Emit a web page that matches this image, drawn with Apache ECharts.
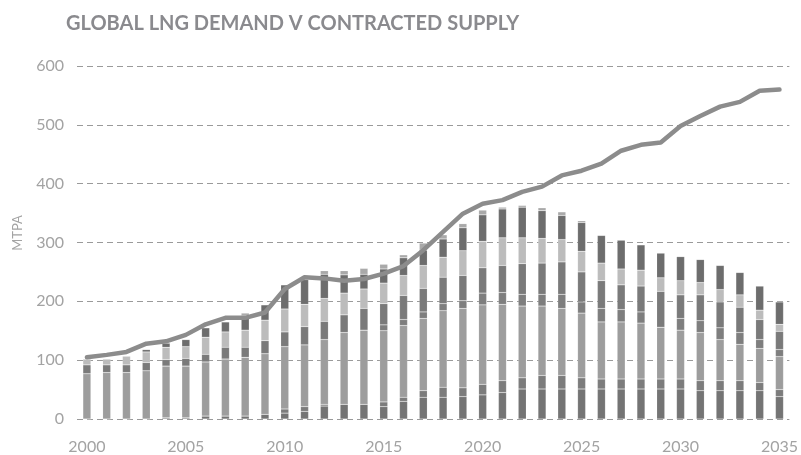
<!DOCTYPE html>
<html>
<head>
<meta charset="utf-8">
<script src="https://cdn.jsdelivr.net/npm/echarts@6/dist/echarts.min.js"></script>
<style>
  html, body { margin: 0; padding: 0; background: #fff; }
  #chart { width: 801px; height: 455px; }
</style>
</head>
<body>
<div id="chart"></div>
<script>
// years 2000 - 2035
var years = [];
for (var y = 2000; y <= 2035; y++) years.push(String(y));

// contracted supply, stacked from the bottom up (MTPA)
var supplyA = [0,0,0,0,2,2,5,5,5,8,10,13,22,25,25,21,30,37,37,38,41,45,51,51,51,51,51,51,51,51,51,48,48,48,48,38];
var supplyB = [0,0,0,0,0,0,0,0,0,0,7,8,3,0,0,8,7,11,17,15,18,20,19,23,23,19,17,17,17,17,17,17,17,17,14,12];
var supplyC = [77,79,79,82,88,88,92,97,100,103,106,105,110,122,126,121,122,123,130,135,135,130,122,118,114,110,97,97,95,88,83,82,70,62,58,56];
var supplyD = [0,0,0,0,0,0,0,0,0,0,0,0,0,0,0,10,10,11,12,13,20,20,20,20,24,19,23,21,19,0,20,20,20,20,15,12];
var supplyE = [15,13,13,14,11,13,13,20,17,22,25,31,31,30,37,36,41,40,45,43,43,46,52,53,55,51,47,42,44,61,40,44,44,43,34,31];
var supplyF = [10,10,15,18,21,20,29,26,29,35,39,38,39,37,33,35,34,39,34,42,45,47,44,42,38,35,30,27,27,23,24,21,21,21,16,12];
var supplyG = [0,0,0,4,7,12,16,17,25,26,41,42,41,31,25,24,30,26,31,39,45,49,52,47,41,49,47,49,43,42,41,39,41,38,41,38];
var supplyH = [0,0,0,0,0,0,0,0,4,0,0,0,6,7,10,8,5,12,7,7,8,3,3,5,6,3,0,0,0,0,0,0,0,0,0,0];

// global LNG demand (MTPA)
var demand = [105,109,114,128,132,143,161,172,172,181,221,241,239,235,238,247,260,287,318,349,366,372,386,395,414,422,434,456,466,470,498,515,531,539,558,560];

var layers = [supplyA, supplyB, supplyC, supplyD, supplyE, supplyF, supplyG, supplyH];
var layerColors = ['#747474', '#7c7c7c', '#9d9d9d', '#7e7e7e', '#7a7a7a', '#bcbcbc', '#6d6d6d', '#a9a9a9'];

var myChart = echarts.init(document.getElementById('chart'));

var series = layers.map(function (d, i) {
    return {
        type: 'bar',
        stack: 'supply',
        barWidth: 8,
        data: d,
        itemStyle: {
            color: layerColors[i],
            borderColor: 'rgba(255,255,255,0.25)',
            borderWidth: 0.5
        },
        z: 2
    };
});

series.push({
    type: 'line',
    data: demand,
    symbol: 'none',
    smooth: false,
    lineStyle: { color: '#8c8c8c', width: 4.5, join: 'round', cap: 'round' },
    z: 5
});

myChart.setOption({
    animation: false,
    title: {
        text: 'GLOBAL LNG DEMAND V CONTRACTED SUPPLY',
        left: 61,
        top: 9,
        textStyle: {
            fontFamily: 'Lato',
            fontWeight: 'bold',
            fontSize: 20,
            color: '#8a8a8e'
        }
    },
    graphic: [{
        type: 'text',
        x: 18,
        y: 233,
        rotation: Math.PI / 2,
        style: {
            text: 'MTPA',
            fontFamily: 'Lato',
            fontSize: 13,
            fill: '#a3a3a3',
            textAlign: 'center',
            textVerticalAlign: 'middle'
        }
    }],
    grid: { left: 77, right: 9, top: 66, bottom: 35, containLabel: false },
    xAxis: {
        type: 'category',
        data: years,
        axisLine: { show: false },
        axisTick: { show: false },
        axisLabel: {
            interval: 4,
            margin: 20,
            color: '#a3a3a3',
            fontFamily: 'Lato',
            fontSize: 16
        }
    },
    yAxis: {
        type: 'value',
        min: 0,
        max: 600,
        interval: 100,
        axisLine: { show: false },
        axisTick: { show: false },
        axisLabel: {
            margin: 13,
            color: '#a3a3a3',
            fontFamily: 'Lato',
            fontSize: 16
        },
        splitLine: {
            lineStyle: { color: '#9a9a9a', type: [6, 4], width: 1 }
        }
    },
    series: series
});
</script>
</body>
</html>
